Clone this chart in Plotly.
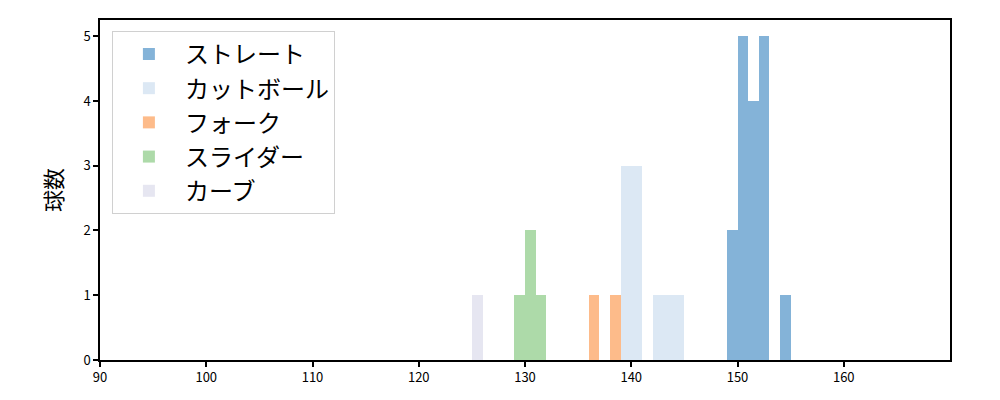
import plotly.graph_objects as go

# bin left edges (width 1 km/h) and counts per pitch type
straight_bins = [149, 150, 151, 152, 154]
straight_counts = [2, 5, 4, 5, 1]
cut_bins = [139, 140, 142, 143, 144]
cut_counts = [3, 3, 1, 1, 1]
fork_bins = [136, 138]
fork_counts = [1, 1]
slider_bins = [129, 130, 131]
slider_counts = [1, 2, 1]
curve_bins = [125]
curve_counts = [1]

series = [
    ("ストレート", straight_bins, straight_counts, "#84b3d8"),
    ("カットボール", cut_bins, cut_counts, "#dce8f4"),
    ("フォーク", fork_bins, fork_counts, "#fdbb8a"),
    ("スライダー", slider_bins, slider_counts, "#addaa9"),
    ("カーブ", curve_bins, curve_counts, "#e6e6f1"),
]

fig = go.Figure()
for name, bins, counts, color in series:
    fig.add_trace(go.Bar(
        x=[b + 0.5 for b in bins], y=counts, width=1, name=name,
        marker=dict(color=color, line=dict(width=0)),
    ))

axis_style = dict(showline=True, linecolor="black", linewidth=1.5, mirror=True,
                  ticks="outside", ticklen=5, tickwidth=1.5, tickcolor="black",
                  showgrid=False, zeroline=False, automargin=False,
                  tickfont=dict(size=13, color="black"))

# page body has an 8px margin, so shift the plot margins to compensate
fig.update_layout(
    width=1000, height=400,
    margin=dict(l=92, r=58, t=12, b=48),
    barmode="overlay", bargap=0,
    plot_bgcolor="white", paper_bgcolor="white",
    font=dict(family="Noto Sans CJK JP, DejaVu Sans", color="black"),
    xaxis=dict(range=[90, 170], tickvals=[90, 100, 110, 120, 130, 140, 150, 160], **axis_style),
    yaxis=dict(range=[0, 5.25], tickvals=[0, 1, 2, 3, 4, 5],
               title=dict(text="球数", font=dict(size=22), standoff=15), **axis_style),
    legend=dict(x=0.014, y=0.968, xanchor="left", yanchor="top",
                bgcolor="white", bordercolor="#d0d0d0", borderwidth=1,
                font=dict(size=24), itemwidth=62, tracegroupgap=2),
    showlegend=True,
)

fig.write_html("out.html")
